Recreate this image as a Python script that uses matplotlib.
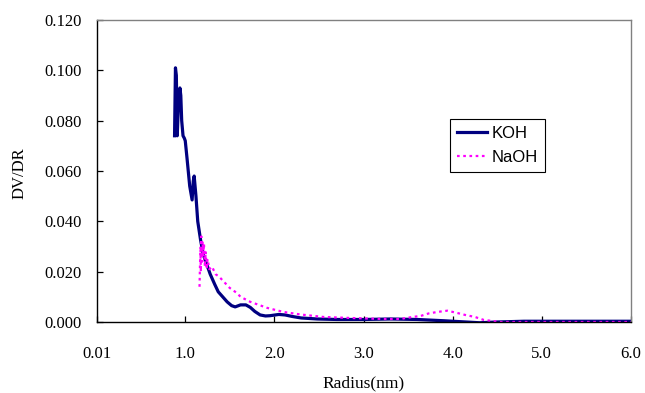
import matplotlib
matplotlib.use("Agg")
import matplotlib.pyplot as plt
from matplotlib.ticker import FixedLocator, FixedFormatter

# ---- data ----
koh_x = [0.880, 0.890, 0.900, 0.910, 0.925, 0.940, 0.950, 0.960, 0.975, 0.990,
         1.00, 1.02, 1.05, 1.077, 1.09, 1.10, 1.12, 1.14, 1.17, 1.20, 1.25, 1.28,
         1.33, 1.37, 1.42, 1.47, 1.52, 1.56, 1.62, 1.68, 1.73, 1.78, 1.84, 1.90,
         1.95, 2.05, 2.12, 2.20, 2.30, 2.48, 2.70, 3.00, 3.30, 3.60, 3.90, 4.10,
         4.30, 4.50, 4.80, 5.20, 5.60, 6.00]
koh_y = [0.074, 0.101, 0.098, 0.074, 0.088, 0.093, 0.090, 0.080, 0.074, 0.073,
         0.072, 0.065, 0.054, 0.0485, 0.056, 0.058, 0.050, 0.040, 0.033, 0.027, 0.022, 0.019,
         0.015, 0.012, 0.010, 0.008, 0.0065, 0.006, 0.0068, 0.0068, 0.0058, 0.0042, 0.0028, 0.0024,
         0.0025, 0.0030, 0.0028, 0.0022, 0.0016, 0.0012, 0.0010, 0.0010, 0.0012, 0.0010, 0.0005, 0.0001,
         -0.0003, 0.0000, 0.0003, 0.0003, 0.0003, 0.0003]

naoh_x = [1.16, 1.17, 1.175, 1.18, 1.19, 1.195, 1.20, 1.21, 1.22, 1.23, 1.24, 1.25,
          1.27, 1.30, 1.34, 1.38, 1.42, 1.50, 1.58, 1.62, 1.73, 1.92, 2.10, 2.29,
          2.55, 2.85, 3.22, 3.41, 3.55, 3.64, 3.73, 3.83, 3.94, 4.05, 4.14, 4.25,
          4.35, 4.45, 4.54, 5.00, 5.50, 6.00]
naoh_y = [0.014, 0.030, 0.020, 0.034, 0.024, 0.032, 0.026, 0.031, 0.022, 0.028, 0.021, 0.025,
          0.021, 0.022, 0.019, 0.018, 0.0165, 0.0135, 0.0115, 0.010, 0.008, 0.0056, 0.004, 0.003,
          0.002, 0.0016, 0.0012, 0.0012, 0.002, 0.0024, 0.0034, 0.004, 0.0045, 0.0036, 0.0028, 0.002,
          0.0008, 0.0004, 0.0, 0.0, 0.0, 0.0]

x_ticks = [0.01, 1.0, 2.0, 3.0, 4.0, 5.0, 6.0]
x_tick_labels = ["0.01", "1.0", "2.0", "3.0", "4.0", "5.0", "6.0"]
y_ticks = [0.0, 0.02, 0.04, 0.06, 0.08, 0.10, 0.12]
y_tick_labels = ["0.000", "0.020", "0.040", "0.060", "0.080", "0.100", "0.120"]

serif = "Liberation Serif"
sans = "Liberation Sans"

fig = plt.figure(figsize=(6.45, 3.93), dpi=100)
ax = fig.add_axes([97/645, 1-322/393, (631-97)/645, (322-20)/393])

ax.plot(koh_x, koh_y, color="#000080", lw=2.3, label="KOH", solid_joinstyle="round")
ax.plot(naoh_x, naoh_y, color="#FF00FF", lw=1.6, ls=(0, (1.2, 1.6)), label="NaOH")

ax.set_xlim(0.01, 6.0)
ax.set_ylim(0.0, 0.12)
ax.xaxis.set_major_locator(FixedLocator(x_ticks))
ax.xaxis.set_major_formatter(FixedFormatter(x_tick_labels))
ax.yaxis.set_major_locator(FixedLocator(y_ticks))
ax.yaxis.set_major_formatter(FixedFormatter(y_tick_labels))

ax.tick_params(axis="both", direction="in", length=4.5, width=0.9, colors="black",
               labelsize=12)
ax.tick_params(axis="y", pad=11)
ax.tick_params(axis="x", pad=17)
for lab in ax.get_xticklabels() + ax.get_yticklabels():
    lab.set_fontfamily(serif)

for s in ["left", "bottom"]:
    ax.spines[s].set_color("black")
    ax.spines[s].set_linewidth(1.0)
for s in ["top", "right"]:
    ax.spines[s].set_color("#808080")
    ax.spines[s].set_linewidth(1.0)

fig.text(20/645, 1-173/393, "DV/DR", rotation=90, ha="center", va="center",
         fontsize=12, fontfamily=serif)
fig.text(364/645, 1-383/393, "Radius(nm)", ha="center", va="center",
         fontsize=12.5, fontfamily=serif)

leg = ax.legend(loc="upper left", bbox_to_anchor=(450/645, 1-119/393),
                bbox_transform=fig.transFigure, frameon=True, fancybox=False,
                edgecolor="black", framealpha=1, borderpad=0.4,
                handlelength=1.8, handletextpad=0.3, labelspacing=0.55,
                borderaxespad=0, prop={"family": sans, "size": 12})
leg.get_frame().set_linewidth(0.8)

fig.savefig("out.png", dpi=100)
